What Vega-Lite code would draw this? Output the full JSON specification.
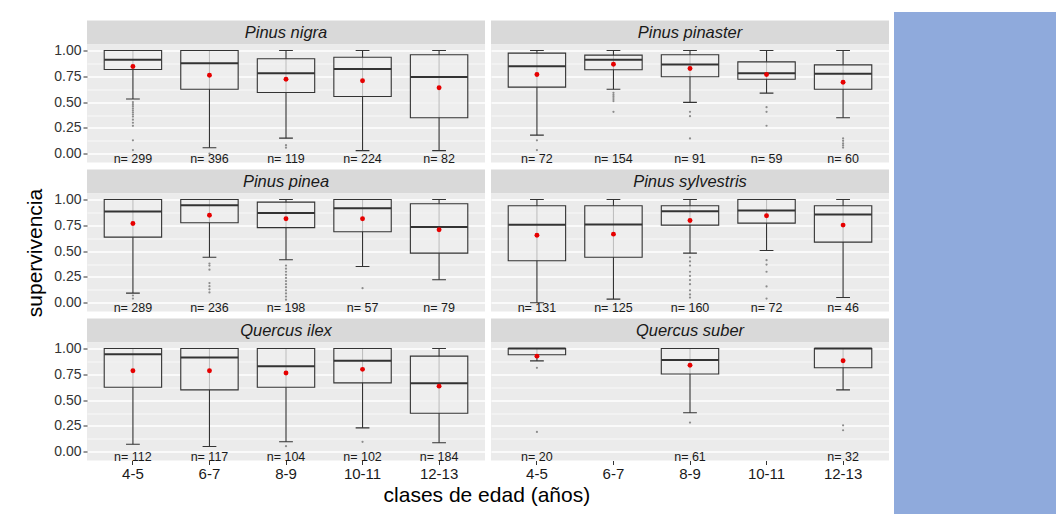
{
  "$schema": "https://vega.github.io/schema/vega-lite/v6.json",
  "background": "white",
  "padding": {"left": 24, "top": 12, "right": 0, "bottom": 0},
  "spacing": 5,
  "center": true,
  "datasets": {
    "cajas": [
      {"especie": "Pinus nigra", "clase": "4-5", "etiqueta": "n= 299", "min": 0.53, "q1": 0.816, "mediana": 0.91, "q3": 1.0, "max": 1.0, "media": 0.845},
      {"especie": "Pinus nigra", "clase": "6-7", "etiqueta": "n= 396", "min": 0.058, "q1": 0.625, "mediana": 0.877, "q3": 1.0, "max": 1.0, "media": 0.76},
      {"especie": "Pinus nigra", "clase": "8-9", "etiqueta": "n= 119", "min": 0.151, "q1": 0.593, "mediana": 0.78, "q3": 0.92, "max": 1.0, "media": 0.722},
      {"especie": "Pinus nigra", "clase": "10-11", "etiqueta": "n= 224", "min": 0.03, "q1": 0.555, "mediana": 0.82, "q3": 0.935, "max": 1.0, "media": 0.707},
      {"especie": "Pinus nigra", "clase": "12-13", "etiqueta": "n= 82", "min": 0.03, "q1": 0.348, "mediana": 0.742, "q3": 0.958, "max": 1.0, "media": 0.639},
      {"especie": "Pinus pinaster", "clase": "4-5", "etiqueta": "n= 72", "min": 0.18, "q1": 0.645, "mediana": 0.848, "q3": 0.974, "max": 1.0, "media": 0.768},
      {"especie": "Pinus pinaster", "clase": "6-7", "etiqueta": "n= 154", "min": 0.625, "q1": 0.813, "mediana": 0.91, "q3": 0.955, "max": 1.0, "media": 0.867},
      {"especie": "Pinus pinaster", "clase": "8-9", "etiqueta": "n= 91", "min": 0.497, "q1": 0.745, "mediana": 0.864, "q3": 0.958, "max": 1.0, "media": 0.826},
      {"especie": "Pinus pinaster", "clase": "10-11", "etiqueta": "n= 59", "min": 0.587, "q1": 0.722, "mediana": 0.78, "q3": 0.89, "max": 1.0, "media": 0.768},
      {"especie": "Pinus pinaster", "clase": "12-13", "etiqueta": "n= 60", "min": 0.348, "q1": 0.625, "mediana": 0.774, "q3": 0.861, "max": 1.0, "media": 0.693},
      {"especie": "Pinus pinea", "clase": "4-5", "etiqueta": "n= 289", "min": 0.093, "q1": 0.635, "mediana": 0.884, "q3": 1.0, "max": 1.0, "media": 0.768},
      {"especie": "Pinus pinea", "clase": "6-7", "etiqueta": "n= 236", "min": 0.441, "q1": 0.775, "mediana": 0.945, "q3": 1.0, "max": 1.0, "media": 0.848},
      {"especie": "Pinus pinea", "clase": "8-9", "etiqueta": "n= 198", "min": 0.416, "q1": 0.727, "mediana": 0.868, "q3": 0.974, "max": 1.0, "media": 0.813},
      {"especie": "Pinus pinea", "clase": "10-11", "etiqueta": "n= 57", "min": 0.351, "q1": 0.687, "mediana": 0.916, "q3": 1.0, "max": 1.0, "media": 0.813},
      {"especie": "Pinus pinea", "clase": "12-13", "etiqueta": "n= 79", "min": 0.222, "q1": 0.48, "mediana": 0.733, "q3": 0.958, "max": 1.0, "media": 0.707},
      {"especie": "Pinus sylvestris", "clase": "4-5", "etiqueta": "n= 131", "min": 0.0, "q1": 0.406, "mediana": 0.755, "q3": 0.939, "max": 1.0, "media": 0.654},
      {"especie": "Pinus sylvestris", "clase": "6-7", "etiqueta": "n= 125", "min": 0.035, "q1": 0.441, "mediana": 0.758, "q3": 0.939, "max": 1.0, "media": 0.664},
      {"especie": "Pinus sylvestris", "clase": "8-9", "etiqueta": "n= 160", "min": 0.48, "q1": 0.752, "mediana": 0.887, "q3": 0.939, "max": 1.0, "media": 0.797},
      {"especie": "Pinus sylvestris", "clase": "10-11", "etiqueta": "n= 72", "min": 0.506, "q1": 0.771, "mediana": 0.894, "q3": 1.0, "max": 1.0, "media": 0.842},
      {"especie": "Pinus sylvestris", "clase": "12-13", "etiqueta": "n= 46", "min": 0.05, "q1": 0.587, "mediana": 0.855, "q3": 0.939, "max": 1.0, "media": 0.752},
      {"especie": "Quercus ilex", "clase": "4-5", "etiqueta": "n= 112", "min": 0.073, "q1": 0.625, "mediana": 0.945, "q3": 1.0, "max": 1.0, "media": 0.785},
      {"especie": "Quercus ilex", "clase": "6-7", "etiqueta": "n= 117", "min": 0.051, "q1": 0.599, "mediana": 0.913, "q3": 1.0, "max": 1.0, "media": 0.785},
      {"especie": "Quercus ilex", "clase": "8-9", "etiqueta": "n= 104", "min": 0.096, "q1": 0.625, "mediana": 0.827, "q3": 1.0, "max": 1.0, "media": 0.763},
      {"especie": "Quercus ilex", "clase": "10-11", "etiqueta": "n= 102", "min": 0.231, "q1": 0.667, "mediana": 0.881, "q3": 1.0, "max": 1.0, "media": 0.798},
      {"especie": "Quercus ilex", "clase": "12-13", "etiqueta": "n= 184", "min": 0.087, "q1": 0.372, "mediana": 0.663, "q3": 0.926, "max": 1.0, "media": 0.635},
      {"especie": "Quercus suber", "clase": "4-5", "etiqueta": "n= 20", "min": 0.88, "q1": 0.94, "mediana": 1.0, "q3": 1.0, "max": 1.0, "media": 0.926},
      {"especie": "Quercus suber", "clase": "8-9", "etiqueta": "n= 61", "min": 0.378, "q1": 0.753, "mediana": 0.888, "q3": 1.0, "max": 1.0, "media": 0.837},
      {"especie": "Quercus suber", "clase": "12-13", "etiqueta": "n= 32", "min": 0.599, "q1": 0.813, "mediana": 1.0, "q3": 1.0, "max": 1.0, "media": 0.881}
    ],
    "atipicos": [
      {"especie": "Pinus nigra", "clase": "4-5", "valor": 0.5}, {"especie": "Pinus nigra", "clase": "4-5", "valor": 0.48},
      {"especie": "Pinus nigra", "clase": "4-5", "valor": 0.46}, {"especie": "Pinus nigra", "clase": "4-5", "valor": 0.44},
      {"especie": "Pinus nigra", "clase": "4-5", "valor": 0.42}, {"especie": "Pinus nigra", "clase": "4-5", "valor": 0.4},
      {"especie": "Pinus nigra", "clase": "4-5", "valor": 0.38}, {"especie": "Pinus nigra", "clase": "4-5", "valor": 0.36},
      {"especie": "Pinus nigra", "clase": "4-5", "valor": 0.33}, {"especie": "Pinus nigra", "clase": "4-5", "valor": 0.3},
      {"especie": "Pinus nigra", "clase": "4-5", "valor": 0.27}, {"especie": "Pinus nigra", "clase": "4-5", "valor": 0.13},
      {"especie": "Pinus nigra", "clase": "4-5", "valor": 0.035},
      {"especie": "Pinus nigra", "clase": "6-7", "valor": 0.0},
      {"especie": "Pinus nigra", "clase": "8-9", "valor": 0.083}, {"especie": "Pinus nigra", "clase": "8-9", "valor": 0.058},
      {"especie": "Pinus pinaster", "clase": "4-5", "valor": 0.13}, {"especie": "Pinus pinaster", "clase": "4-5", "valor": 0.035},
      {"especie": "Pinus pinaster", "clase": "6-7", "valor": 0.59}, {"especie": "Pinus pinaster", "clase": "6-7", "valor": 0.57},
      {"especie": "Pinus pinaster", "clase": "6-7", "valor": 0.55}, {"especie": "Pinus pinaster", "clase": "6-7", "valor": 0.53},
      {"especie": "Pinus pinaster", "clase": "6-7", "valor": 0.51}, {"especie": "Pinus pinaster", "clase": "6-7", "valor": 0.406},
      {"especie": "Pinus pinaster", "clase": "8-9", "valor": 0.406}, {"especie": "Pinus pinaster", "clase": "8-9", "valor": 0.364},
      {"especie": "Pinus pinaster", "clase": "8-9", "valor": 0.148},
      {"especie": "Pinus pinaster", "clase": "10-11", "valor": 0.451}, {"especie": "Pinus pinaster", "clase": "10-11", "valor": 0.406},
      {"especie": "Pinus pinaster", "clase": "10-11", "valor": 0.271},
      {"especie": "Pinus pinaster", "clase": "12-13", "valor": 0.148}, {"especie": "Pinus pinaster", "clase": "12-13", "valor": 0.125},
      {"especie": "Pinus pinaster", "clase": "12-13", "valor": 0.1}, {"especie": "Pinus pinaster", "clase": "12-13", "valor": 0.08},
      {"especie": "Pinus pinaster", "clase": "12-13", "valor": 0.06},
      {"especie": "Pinus pinea", "clase": "4-5", "valor": 0.07}, {"especie": "Pinus pinea", "clase": "4-5", "valor": 0.04},
      {"especie": "Pinus pinea", "clase": "6-7", "valor": 0.38}, {"especie": "Pinus pinea", "clase": "6-7", "valor": 0.36},
      {"especie": "Pinus pinea", "clase": "6-7", "valor": 0.32}, {"especie": "Pinus pinea", "clase": "6-7", "valor": 0.19},
      {"especie": "Pinus pinea", "clase": "6-7", "valor": 0.16}, {"especie": "Pinus pinea", "clase": "6-7", "valor": 0.13},
      {"especie": "Pinus pinea", "clase": "6-7", "valor": 0.1},
      {"especie": "Pinus pinea", "clase": "8-9", "valor": 0.36}, {"especie": "Pinus pinea", "clase": "8-9", "valor": 0.33},
      {"especie": "Pinus pinea", "clase": "8-9", "valor": 0.3}, {"especie": "Pinus pinea", "clase": "8-9", "valor": 0.27},
      {"especie": "Pinus pinea", "clase": "8-9", "valor": 0.24}, {"especie": "Pinus pinea", "clase": "8-9", "valor": 0.21},
      {"especie": "Pinus pinea", "clase": "8-9", "valor": 0.18}, {"especie": "Pinus pinea", "clase": "8-9", "valor": 0.15},
      {"especie": "Pinus pinea", "clase": "8-9", "valor": 0.12}, {"especie": "Pinus pinea", "clase": "8-9", "valor": 0.09},
      {"especie": "Pinus pinea", "clase": "8-9", "valor": 0.06}, {"especie": "Pinus pinea", "clase": "8-9", "valor": 0.03},
      {"especie": "Pinus pinea", "clase": "10-11", "valor": 0.141},
      {"especie": "Pinus sylvestris", "clase": "8-9", "valor": 0.44}, {"especie": "Pinus sylvestris", "clase": "8-9", "valor": 0.4},
      {"especie": "Pinus sylvestris", "clase": "8-9", "valor": 0.36}, {"especie": "Pinus sylvestris", "clase": "8-9", "valor": 0.3},
      {"especie": "Pinus sylvestris", "clase": "8-9", "valor": 0.26}, {"especie": "Pinus sylvestris", "clase": "8-9", "valor": 0.22},
      {"especie": "Pinus sylvestris", "clase": "8-9", "valor": 0.18}, {"especie": "Pinus sylvestris", "clase": "8-9", "valor": 0.12},
      {"especie": "Pinus sylvestris", "clase": "8-9", "valor": 0.08}, {"especie": "Pinus sylvestris", "clase": "8-9", "valor": 0.05},
      {"especie": "Pinus sylvestris", "clase": "10-11", "valor": 0.412}, {"especie": "Pinus sylvestris", "clase": "10-11", "valor": 0.37},
      {"especie": "Pinus sylvestris", "clase": "10-11", "valor": 0.3}, {"especie": "Pinus sylvestris", "clase": "10-11", "valor": 0.158},
      {"especie": "Pinus sylvestris", "clase": "10-11", "valor": 0.04},
      {"especie": "Quercus ilex", "clase": "8-9", "valor": 0.054},
      {"especie": "Quercus ilex", "clase": "10-11", "valor": 0.096},
      {"especie": "Quercus suber", "clase": "4-5", "valor": 0.813}, {"especie": "Quercus suber", "clase": "4-5", "valor": 0.192},
      {"especie": "Quercus suber", "clase": "8-9", "valor": 0.282},
      {"especie": "Quercus suber", "clase": "12-13", "valor": 0.256}, {"especie": "Quercus suber", "clase": "12-13", "valor": 0.208}
    ]
  },
  "hconcat": [
    {
      "columns": 2,
      "spacing": {"row": 1, "column": 6},
      "title": {"text": "clases de edad (años)", "orient": "bottom", "anchor": "middle", "fontSize": 21, "fontWeight": "normal", "color": "#000000", "offset": 3, "dx": 30},
      "concat": [
        {"spacing": 0, "bounds": "flush", "vconcat": [
          {"width": 398, "height": 24, "view": {"fill": "#d9d9d9", "stroke": null}, "data": {"name": "cajas"},
           "transform": [{"filter": "datum.especie == 'Pinus nigra'"}, {"aggregate": [{"op": "count", "as": "k"}], "groupby": ["especie"]}],
           "mark": {"type": "text", "fontSize": 16.5, "fontStyle": "italic", "color": "#1a1a1a", "baseline": "middle"},
           "encoding": {"text": {"field": "especie"}}},
          {"width": 398, "height": 118, "data": {"name": "cajas"}, "transform": [{"filter": "datum.especie == 'Pinus nigra'"}],
           "encoding": {"x": {"field": "clase", "type": "ordinal", "scale": {"domain": ["4-5", "6-7", "8-9", "10-11", "12-13"]}, "axis": {"labels": false, "ticks": false, "title": null, "gridWidth": 1.5, "bandPosition": 0.5}}},
           "layer": [
             {"mark": {"type": "rule", "color": "#333333", "strokeWidth": 1.1}, "encoding": {"y": {"field": "min", "type": "quantitative", "scale": {"domain": [-0.085, 1.058], "nice": false, "zero": false},
               "axis": {"values": [0, 0.125, 0.25, 0.375, 0.5, 0.625, 0.75, 0.875, 1], "tickCount": 20, "labelExpr": "round(datum.value * 8) % 2 == 1 ? '' : format(datum.value, '.2f')", "labelOverlap": false, "labelFontSize": 14, "labelColor": "#333333", "labelPadding": 2, "tickSize": 4, "tickOpacity": {"condition": {"test": "round(datum.value * 8) % 2 == 1", "value": 0}, "value": 1}, "gridWidth": {"condition": {"test": "round(datum.value * 8) % 2 == 1", "value": 0.7}, "value": 1.5}, "title": "supervivencia", "titleFontSize": 21, "titleFontWeight": "normal", "titleColor": "#000000", "titlePadding": 8, "titleOpacity": 0}}, "y2": {"field": "max"}}},
             {"mark": {"type": "bar", "fill": "#efefef", "fillOpacity": 0.75, "stroke": "#333333", "strokeWidth": 1.1}, "encoding": {"y": {"field": "q1", "type": "quantitative"}, "y2": {"field": "q3"}}},
             {"mark": {"type": "bar", "fillOpacity": 0, "stroke": "#333333", "strokeWidth": 2}, "encoding": {"y": {"field": "mediana", "type": "quantitative"}, "y2": {"field": "mediana"}}},
             {"mark": {"type": "bar", "fillOpacity": 0, "stroke": "#333333", "strokeWidth": 1.1, "width": {"band": 0.24}}, "encoding": {"y": {"field": "min", "type": "quantitative"}, "y2": {"field": "min"}}},
             {"mark": {"type": "bar", "fillOpacity": 0, "stroke": "#333333", "strokeWidth": 1.1, "width": {"band": 0.24}}, "encoding": {"y": {"field": "max", "type": "quantitative"}, "y2": {"field": "max"}}},
             {"data": {"name": "atipicos"}, "transform": [{"filter": "datum.especie == 'Pinus nigra'"}], "mark": {"type": "point", "filled": true, "size": 5, "color": "#8c8c8c", "opacity": 1}, "encoding": {"y": {"field": "valor", "type": "quantitative"}}},
             {"mark": {"type": "point", "filled": true, "size": 24, "color": "#e60000", "opacity": 1}, "encoding": {"y": {"field": "media", "type": "quantitative"}}},
             {"mark": {"type": "text", "fontSize": 12.5, "color": "#1a1a1a", "baseline": "middle"}, "encoding": {"y": {"datum": -0.055, "type": "quantitative"}, "text": {"field": "etiqueta"}}}
           ]}
        ]},
        {"spacing": 0, "bounds": "flush", "vconcat": [
          {"width": 398, "height": 24, "view": {"fill": "#d9d9d9", "stroke": null}, "data": {"name": "cajas"},
           "transform": [{"filter": "datum.especie == 'Pinus pinaster'"}, {"aggregate": [{"op": "count", "as": "k"}], "groupby": ["especie"]}],
           "mark": {"type": "text", "fontSize": 16.5, "fontStyle": "italic", "color": "#1a1a1a", "baseline": "middle"},
           "encoding": {"text": {"field": "especie"}}},
          {"width": 398, "height": 118, "data": {"name": "cajas"}, "transform": [{"filter": "datum.especie == 'Pinus pinaster'"}],
           "encoding": {"x": {"field": "clase", "type": "ordinal", "scale": {"domain": ["4-5", "6-7", "8-9", "10-11", "12-13"]}, "axis": {"labels": false, "ticks": false, "title": null, "gridWidth": 1.5, "bandPosition": 0.5}}},
           "layer": [
             {"mark": {"type": "rule", "color": "#333333", "strokeWidth": 1.1}, "encoding": {"y": {"field": "min", "type": "quantitative", "scale": {"domain": [-0.085, 1.058], "nice": false, "zero": false},
               "axis": {"values": [0, 0.125, 0.25, 0.375, 0.5, 0.625, 0.75, 0.875, 1], "tickCount": 20, "labels": false, "ticks": false, "gridWidth": {"condition": {"test": "round(datum.value * 8) % 2 == 1", "value": 0.7}, "value": 1.5}, "title": null}}, "y2": {"field": "max"}}},
             {"mark": {"type": "bar", "fill": "#efefef", "fillOpacity": 0.75, "stroke": "#333333", "strokeWidth": 1.1}, "encoding": {"y": {"field": "q1", "type": "quantitative"}, "y2": {"field": "q3"}}},
             {"mark": {"type": "bar", "fillOpacity": 0, "stroke": "#333333", "strokeWidth": 2}, "encoding": {"y": {"field": "mediana", "type": "quantitative"}, "y2": {"field": "mediana"}}},
             {"mark": {"type": "bar", "fillOpacity": 0, "stroke": "#333333", "strokeWidth": 1.1, "width": {"band": 0.24}}, "encoding": {"y": {"field": "min", "type": "quantitative"}, "y2": {"field": "min"}}},
             {"mark": {"type": "bar", "fillOpacity": 0, "stroke": "#333333", "strokeWidth": 1.1, "width": {"band": 0.24}}, "encoding": {"y": {"field": "max", "type": "quantitative"}, "y2": {"field": "max"}}},
             {"data": {"name": "atipicos"}, "transform": [{"filter": "datum.especie == 'Pinus pinaster'"}], "mark": {"type": "point", "filled": true, "size": 5, "color": "#8c8c8c", "opacity": 1}, "encoding": {"y": {"field": "valor", "type": "quantitative"}}},
             {"mark": {"type": "point", "filled": true, "size": 24, "color": "#e60000", "opacity": 1}, "encoding": {"y": {"field": "media", "type": "quantitative"}}},
             {"mark": {"type": "text", "fontSize": 12.5, "color": "#1a1a1a", "baseline": "middle"}, "encoding": {"y": {"datum": -0.055, "type": "quantitative"}, "text": {"field": "etiqueta"}}}
           ]}
        ]},
        {"spacing": 0, "bounds": "flush", "vconcat": [
          {"width": 398, "height": 24, "view": {"fill": "#d9d9d9", "stroke": null}, "data": {"name": "cajas"},
           "transform": [{"filter": "datum.especie == 'Pinus pinea'"}, {"aggregate": [{"op": "count", "as": "k"}], "groupby": ["especie"]}],
           "mark": {"type": "text", "fontSize": 16.5, "fontStyle": "italic", "color": "#1a1a1a", "baseline": "middle"},
           "encoding": {"text": {"field": "especie"}}},
          {"width": 398, "height": 118, "data": {"name": "cajas"}, "transform": [{"filter": "datum.especie == 'Pinus pinea'"}],
           "encoding": {"x": {"field": "clase", "type": "ordinal", "scale": {"domain": ["4-5", "6-7", "8-9", "10-11", "12-13"]}, "axis": {"labels": false, "ticks": false, "title": null, "gridWidth": 1.5, "bandPosition": 0.5}}},
           "layer": [
             {"mark": {"type": "rule", "color": "#333333", "strokeWidth": 1.1}, "encoding": {"y": {"field": "min", "type": "quantitative", "scale": {"domain": [-0.085, 1.058], "nice": false, "zero": false},
               "axis": {"values": [0, 0.125, 0.25, 0.375, 0.5, 0.625, 0.75, 0.875, 1], "tickCount": 20, "labelExpr": "round(datum.value * 8) % 2 == 1 ? '' : format(datum.value, '.2f')", "labelOverlap": false, "labelFontSize": 14, "labelColor": "#333333", "labelPadding": 2, "tickSize": 4, "tickOpacity": {"condition": {"test": "round(datum.value * 8) % 2 == 1", "value": 0}, "value": 1}, "gridWidth": {"condition": {"test": "round(datum.value * 8) % 2 == 1", "value": 0.7}, "value": 1.5}, "title": "supervivencia", "titleFontSize": 21, "titleFontWeight": "normal", "titleColor": "#000000", "titlePadding": 8, "titleOpacity": 1}}, "y2": {"field": "max"}}},
             {"mark": {"type": "bar", "fill": "#efefef", "fillOpacity": 0.75, "stroke": "#333333", "strokeWidth": 1.1}, "encoding": {"y": {"field": "q1", "type": "quantitative"}, "y2": {"field": "q3"}}},
             {"mark": {"type": "bar", "fillOpacity": 0, "stroke": "#333333", "strokeWidth": 2}, "encoding": {"y": {"field": "mediana", "type": "quantitative"}, "y2": {"field": "mediana"}}},
             {"mark": {"type": "bar", "fillOpacity": 0, "stroke": "#333333", "strokeWidth": 1.1, "width": {"band": 0.24}}, "encoding": {"y": {"field": "min", "type": "quantitative"}, "y2": {"field": "min"}}},
             {"mark": {"type": "bar", "fillOpacity": 0, "stroke": "#333333", "strokeWidth": 1.1, "width": {"band": 0.24}}, "encoding": {"y": {"field": "max", "type": "quantitative"}, "y2": {"field": "max"}}},
             {"data": {"name": "atipicos"}, "transform": [{"filter": "datum.especie == 'Pinus pinea'"}], "mark": {"type": "point", "filled": true, "size": 5, "color": "#8c8c8c", "opacity": 1}, "encoding": {"y": {"field": "valor", "type": "quantitative"}}},
             {"mark": {"type": "point", "filled": true, "size": 24, "color": "#e60000", "opacity": 1}, "encoding": {"y": {"field": "media", "type": "quantitative"}}},
             {"mark": {"type": "text", "fontSize": 12.5, "color": "#1a1a1a", "baseline": "middle"}, "encoding": {"y": {"datum": -0.055, "type": "quantitative"}, "text": {"field": "etiqueta"}}}
           ]}
        ]},
        {"spacing": 0, "bounds": "flush", "vconcat": [
          {"width": 398, "height": 24, "view": {"fill": "#d9d9d9", "stroke": null}, "data": {"name": "cajas"},
           "transform": [{"filter": "datum.especie == 'Pinus sylvestris'"}, {"aggregate": [{"op": "count", "as": "k"}], "groupby": ["especie"]}],
           "mark": {"type": "text", "fontSize": 16.5, "fontStyle": "italic", "color": "#1a1a1a", "baseline": "middle"},
           "encoding": {"text": {"field": "especie"}}},
          {"width": 398, "height": 118, "data": {"name": "cajas"}, "transform": [{"filter": "datum.especie == 'Pinus sylvestris'"}],
           "encoding": {"x": {"field": "clase", "type": "ordinal", "scale": {"domain": ["4-5", "6-7", "8-9", "10-11", "12-13"]}, "axis": {"labels": false, "ticks": false, "title": null, "gridWidth": 1.5, "bandPosition": 0.5}}},
           "layer": [
             {"mark": {"type": "rule", "color": "#333333", "strokeWidth": 1.1}, "encoding": {"y": {"field": "min", "type": "quantitative", "scale": {"domain": [-0.085, 1.058], "nice": false, "zero": false},
               "axis": {"values": [0, 0.125, 0.25, 0.375, 0.5, 0.625, 0.75, 0.875, 1], "tickCount": 20, "labels": false, "ticks": false, "gridWidth": {"condition": {"test": "round(datum.value * 8) % 2 == 1", "value": 0.7}, "value": 1.5}, "title": null}}, "y2": {"field": "max"}}},
             {"mark": {"type": "bar", "fill": "#efefef", "fillOpacity": 0.75, "stroke": "#333333", "strokeWidth": 1.1}, "encoding": {"y": {"field": "q1", "type": "quantitative"}, "y2": {"field": "q3"}}},
             {"mark": {"type": "bar", "fillOpacity": 0, "stroke": "#333333", "strokeWidth": 2}, "encoding": {"y": {"field": "mediana", "type": "quantitative"}, "y2": {"field": "mediana"}}},
             {"mark": {"type": "bar", "fillOpacity": 0, "stroke": "#333333", "strokeWidth": 1.1, "width": {"band": 0.24}}, "encoding": {"y": {"field": "min", "type": "quantitative"}, "y2": {"field": "min"}}},
             {"mark": {"type": "bar", "fillOpacity": 0, "stroke": "#333333", "strokeWidth": 1.1, "width": {"band": 0.24}}, "encoding": {"y": {"field": "max", "type": "quantitative"}, "y2": {"field": "max"}}},
             {"data": {"name": "atipicos"}, "transform": [{"filter": "datum.especie == 'Pinus sylvestris'"}], "mark": {"type": "point", "filled": true, "size": 5, "color": "#8c8c8c", "opacity": 1}, "encoding": {"y": {"field": "valor", "type": "quantitative"}}},
             {"mark": {"type": "point", "filled": true, "size": 24, "color": "#e60000", "opacity": 1}, "encoding": {"y": {"field": "media", "type": "quantitative"}}},
             {"mark": {"type": "text", "fontSize": 12.5, "color": "#1a1a1a", "baseline": "middle"}, "encoding": {"y": {"datum": -0.055, "type": "quantitative"}, "text": {"field": "etiqueta"}}}
           ]}
        ]},
        {"spacing": 0, "bounds": "flush", "vconcat": [
          {"width": 398, "height": 24, "view": {"fill": "#d9d9d9", "stroke": null}, "data": {"name": "cajas"},
           "transform": [{"filter": "datum.especie == 'Quercus ilex'"}, {"aggregate": [{"op": "count", "as": "k"}], "groupby": ["especie"]}],
           "mark": {"type": "text", "fontSize": 16.5, "fontStyle": "italic", "color": "#1a1a1a", "baseline": "middle"},
           "encoding": {"text": {"field": "especie"}}},
          {"width": 398, "height": 118, "data": {"name": "cajas"}, "transform": [{"filter": "datum.especie == 'Quercus ilex'"}],
           "encoding": {"x": {"field": "clase", "type": "ordinal", "scale": {"domain": ["4-5", "6-7", "8-9", "10-11", "12-13"]}, "axis": {"labelFontSize": 15, "labelColor": "#1a1a1a", "labelPadding": 2, "tickSize": 4, "labelAngle": 0, "title": null, "gridWidth": 1.5, "bandPosition": 0.5}}},
           "layer": [
             {"mark": {"type": "rule", "color": "#333333", "strokeWidth": 1.1}, "encoding": {"y": {"field": "min", "type": "quantitative", "scale": {"domain": [-0.085, 1.058], "nice": false, "zero": false},
               "axis": {"values": [0, 0.125, 0.25, 0.375, 0.5, 0.625, 0.75, 0.875, 1], "tickCount": 20, "labelExpr": "round(datum.value * 8) % 2 == 1 ? '' : format(datum.value, '.2f')", "labelOverlap": false, "labelFontSize": 14, "labelColor": "#333333", "labelPadding": 2, "tickSize": 4, "tickOpacity": {"condition": {"test": "round(datum.value * 8) % 2 == 1", "value": 0}, "value": 1}, "gridWidth": {"condition": {"test": "round(datum.value * 8) % 2 == 1", "value": 0.7}, "value": 1.5}, "title": "supervivencia", "titleFontSize": 21, "titleFontWeight": "normal", "titleColor": "#000000", "titlePadding": 8, "titleOpacity": 0}}, "y2": {"field": "max"}}},
             {"mark": {"type": "bar", "fill": "#efefef", "fillOpacity": 0.75, "stroke": "#333333", "strokeWidth": 1.1}, "encoding": {"y": {"field": "q1", "type": "quantitative"}, "y2": {"field": "q3"}}},
             {"mark": {"type": "bar", "fillOpacity": 0, "stroke": "#333333", "strokeWidth": 2}, "encoding": {"y": {"field": "mediana", "type": "quantitative"}, "y2": {"field": "mediana"}}},
             {"mark": {"type": "bar", "fillOpacity": 0, "stroke": "#333333", "strokeWidth": 1.1, "width": {"band": 0.24}}, "encoding": {"y": {"field": "min", "type": "quantitative"}, "y2": {"field": "min"}}},
             {"mark": {"type": "bar", "fillOpacity": 0, "stroke": "#333333", "strokeWidth": 1.1, "width": {"band": 0.24}}, "encoding": {"y": {"field": "max", "type": "quantitative"}, "y2": {"field": "max"}}},
             {"data": {"name": "atipicos"}, "transform": [{"filter": "datum.especie == 'Quercus ilex'"}], "mark": {"type": "point", "filled": true, "size": 5, "color": "#8c8c8c", "opacity": 1}, "encoding": {"y": {"field": "valor", "type": "quantitative"}}},
             {"mark": {"type": "point", "filled": true, "size": 24, "color": "#e60000", "opacity": 1}, "encoding": {"y": {"field": "media", "type": "quantitative"}}},
             {"mark": {"type": "text", "fontSize": 12.5, "color": "#1a1a1a", "baseline": "middle"}, "encoding": {"y": {"datum": -0.055, "type": "quantitative"}, "text": {"field": "etiqueta"}}}
           ]}
        ]},
        {"spacing": 0, "bounds": "flush", "vconcat": [
          {"width": 398, "height": 24, "view": {"fill": "#d9d9d9", "stroke": null}, "data": {"name": "cajas"},
           "transform": [{"filter": "datum.especie == 'Quercus suber'"}, {"aggregate": [{"op": "count", "as": "k"}], "groupby": ["especie"]}],
           "mark": {"type": "text", "fontSize": 16.5, "fontStyle": "italic", "color": "#1a1a1a", "baseline": "middle"},
           "encoding": {"text": {"field": "especie"}}},
          {"width": 398, "height": 118, "data": {"name": "cajas"}, "transform": [{"filter": "datum.especie == 'Quercus suber'"}],
           "encoding": {"x": {"field": "clase", "type": "ordinal", "scale": {"domain": ["4-5", "6-7", "8-9", "10-11", "12-13"]}, "axis": {"labelFontSize": 15, "labelColor": "#1a1a1a", "labelPadding": 2, "tickSize": 4, "labelAngle": 0, "title": null, "gridWidth": 1.5, "bandPosition": 0.5}}},
           "layer": [
             {"mark": {"type": "rule", "color": "#333333", "strokeWidth": 1.1}, "encoding": {"y": {"field": "min", "type": "quantitative", "scale": {"domain": [-0.085, 1.058], "nice": false, "zero": false},
               "axis": {"values": [0, 0.125, 0.25, 0.375, 0.5, 0.625, 0.75, 0.875, 1], "tickCount": 20, "labels": false, "ticks": false, "gridWidth": {"condition": {"test": "round(datum.value * 8) % 2 == 1", "value": 0.7}, "value": 1.5}, "title": null}}, "y2": {"field": "max"}}},
             {"mark": {"type": "bar", "fill": "#efefef", "fillOpacity": 0.75, "stroke": "#333333", "strokeWidth": 1.1}, "encoding": {"y": {"field": "q1", "type": "quantitative"}, "y2": {"field": "q3"}}},
             {"mark": {"type": "bar", "fillOpacity": 0, "stroke": "#333333", "strokeWidth": 2}, "encoding": {"y": {"field": "mediana", "type": "quantitative"}, "y2": {"field": "mediana"}}},
             {"mark": {"type": "bar", "fillOpacity": 0, "stroke": "#333333", "strokeWidth": 1.1, "width": {"band": 0.24}}, "encoding": {"y": {"field": "min", "type": "quantitative"}, "y2": {"field": "min"}}},
             {"mark": {"type": "bar", "fillOpacity": 0, "stroke": "#333333", "strokeWidth": 1.1, "width": {"band": 0.24}}, "encoding": {"y": {"field": "max", "type": "quantitative"}, "y2": {"field": "max"}}},
             {"data": {"name": "atipicos"}, "transform": [{"filter": "datum.especie == 'Quercus suber'"}], "mark": {"type": "point", "filled": true, "size": 5, "color": "#8c8c8c", "opacity": 1}, "encoding": {"y": {"field": "valor", "type": "quantitative"}}},
             {"mark": {"type": "point", "filled": true, "size": 24, "color": "#e60000", "opacity": 1}, "encoding": {"y": {"field": "media", "type": "quantitative"}}},
             {"mark": {"type": "text", "fontSize": 12.5, "color": "#1a1a1a", "baseline": "middle"}, "encoding": {"y": {"datum": -0.055, "type": "quantitative"}, "text": {"field": "etiqueta"}}}
           ]}
        ]}
      ]
    },
    {
      "width": 163, "height": 502,
      "view": {"fill": "#8faadc", "stroke": null},
      "data": {"values": [{"t": ""}]},
      "mark": "text",
      "encoding": {"text": {"field": "t"}}
    }
  ],
  "config": {
    "font": "Liberation Sans",
    "view": {"fill": "#ebebeb", "stroke": null},
    "scale": {"bandPaddingInner": 0.25, "bandPaddingOuter": 0.225},
    "axis": {"domain": false, "gridColor": "#ffffff", "tickColor": "#333333", "gridOpacity": 1}
  }
}
